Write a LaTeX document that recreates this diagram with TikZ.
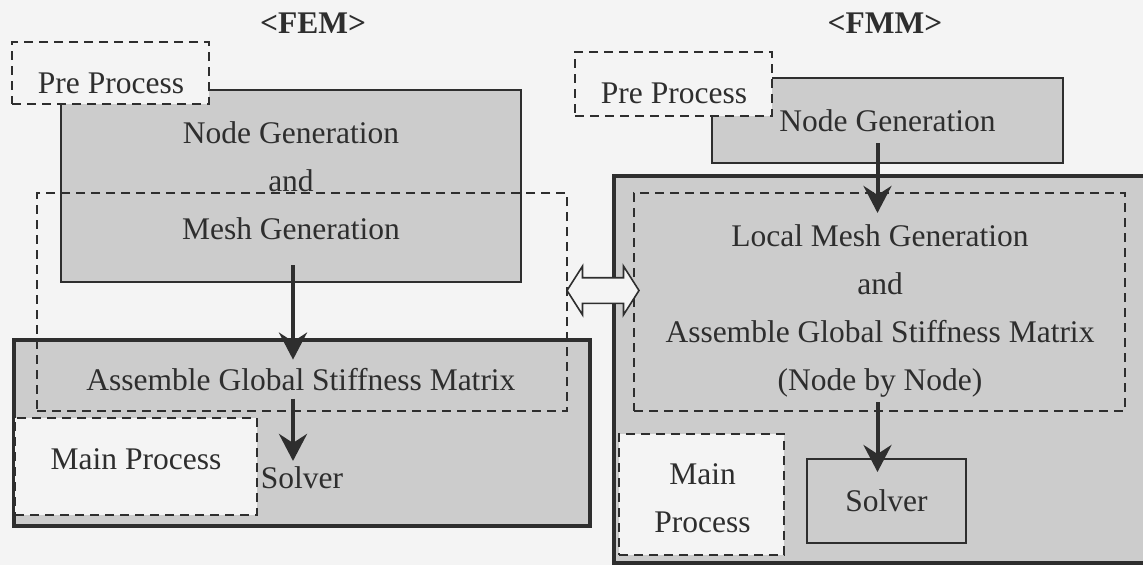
\documentclass[tikz,border=0pt]{standalone}
\usepackage{fontspec}
\setmainfont{Liberation Serif}
\usetikzlibrary{arrows.meta,
                shapes.arrows}
\definecolor{paper}{gray}{0.955}
\definecolor{stip}{gray}{0.80}
\definecolor{ink}{gray}{0.18}

\begin{document}
\begin{tikzpicture}[
x=1pt, y=-1pt,
font = \fontsize{31.5}{48}\selectfont,
   BOX/.style = {draw=ink, text=ink, line width=2pt,
                 inner sep=0pt, outer sep=0pt},
   GRY/.style = {BOX, fill=stip},                    % gray block
   THK/.style = {GRY, line width=4pt},               % thick frame
   DSH/.style = {BOX, dash pattern=on 9pt off 6pt},  % dashed frame
   WHT/.style = {DSH, fill=paper},                   % white dashed frame
   TXT/.style = {inner sep=0pt, text=ink, align=center, anchor=base},
   TTL/.style = {TXT, font=\fontsize{31.5}{48}\selectfont\bfseries},
   ARR/.style = {draw=ink, line width=4pt,
                 -{Stealth[length=27pt, width=28pt, inset=9pt]}},
   DBL/.style = {double arrow, draw=ink, fill=paper, line width=1.6pt,
                 minimum height=72pt, minimum width=47pt,
                 inner xsep=0pt, inner ysep=12pt,
                 double arrow head extend=11.5pt,
                 double arrow tip angle=115}
                        ]
\path[use as bounding box, fill=paper] (0,0) rectangle (1143,565);

% FEM side
\node[GRY, minimum width=460pt, minimum height=192pt] (femng)   at (291,186)   {};
\node[WHT, minimum width=197pt, minimum height=62pt]  (fempre)  at (110.5,73)  {};
\node[THK, minimum width=576pt, minimum height=186pt] (femmain) at (302,433)   {};
\node[DSH, minimum width=530pt, minimum height=218pt] (femasm)  at (302,302)   {};
\node[WHT, minimum width=242pt, minimum height=97pt]  (femmp)   at (136,466.5) {};

% base of a multi-line text is its last line
\node[TTL] (femttl)  at (313,33)  {<FEM>};
\node[TXT] (fempret) at (111,93)  {Pre Process};
\node[TXT] (femngt)  at (291,239) {Node Generation\\and\\Mesh Generation};
\node[TXT] (femasmt) at (301,390) {Assemble Global Stiffness Matrix};
\node[TXT] (femmpt)  at (136,469) {Main Process};
\node[TXT] (femsolt) at (302,488) {Solver};

\draw[ARR, shorten <=-17pt, shorten >=8pt]
     ([xshift=2pt]femng.south) -- ([xshift=2pt]femng.south |- femasmt.north);
\draw[ARR, shorten <=8pt, shorten >=5pt]
     ([xshift=2pt]femng.south |- femasmt.south) -- ([xshift=2pt]femng.south |- femsolt.north);

% FMM side
\node[GRY, minimum width=351pt, minimum height=85pt]  (fmmng)     at (887.5,120.5) {Node Generation};
\node[WHT, minimum width=197pt, minimum height=64pt]  (fmmpre)    at (673.5,84)    {};
\node[THK, minimum width=546pt, minimum height=387pt] (fmmmain)   at (886.75,369.5) {};
\node[DSH, minimum width=491pt, minimum height=218pt] (fmmasm)    at (879.5,302)   {};
\node[WHT, minimum width=165pt, minimum height=121pt] (fmmmp)     at (701.5,494.5) {};
\node[GRY, minimum width=159pt, minimum height=84pt]  (fmmsolver) at (886.5,501)   {Solver};

\node[TTL] (fmmttl)  at (885,33)  {<FMM>};
\node[TXT] (fmmpret) at (674,103) {Pre Process};
\node[TXT] (fmmasmt) at (880,390) {Local Mesh Generation\\and\\Assemble Global Stiffness Matrix\\(Node by Node)};
\node[TXT] (fmmmpt)  at (702.5,532) {Main\\Process};

\draw[ARR, shorten <=-20pt, shorten >=11pt]
     ([xshift=-10pt]fmmng.south) -- ([xshift=-10pt]fmmng.south |- fmmasmt.north);
\draw[ARR, shorten <=5pt, shorten >=-13pt]
     ([xshift=-10pt]fmmng.south |- fmmasmt.south) -- ([xshift=-10pt]fmmng.south |- fmmsolver.north);

% FEM <-> FMM
\node[DBL] (link) at (603,290.5) {};
\end{tikzpicture}
\end{document}
